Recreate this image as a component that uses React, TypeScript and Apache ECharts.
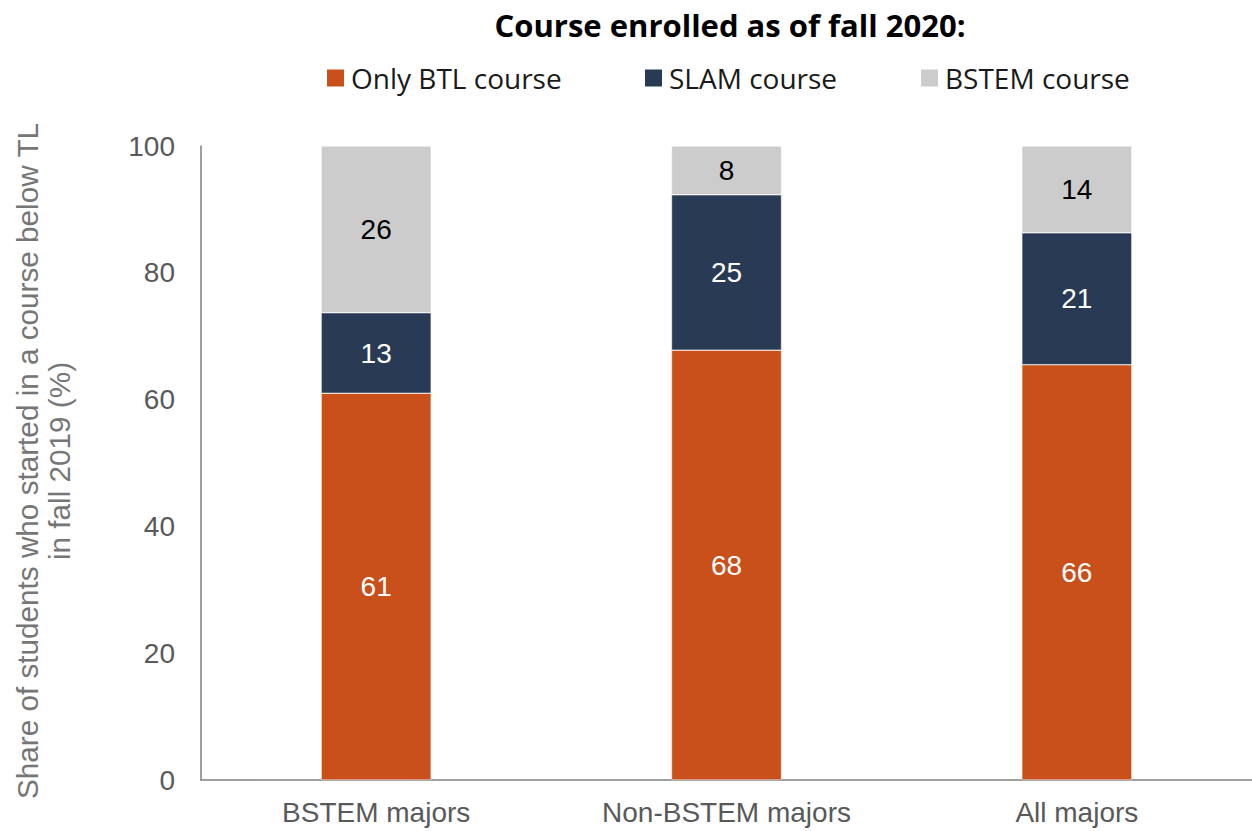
import React, { useEffect, useRef } from "react";
import * as echarts from "echarts";

const categories = ["BSTEM majors", "Non-BSTEM majors", "All majors"];
const onlyBTL = [61.0, 67.8, 65.5];
const slam = [12.7, 24.5, 20.8];
const bstem = [26.3, 7.7, 13.7];
const seriesNames = ["Only BTL course", "SLAM course", "BSTEM course"];
const colors = ["#C9501B", "#283A54", "#CCCCCC"];
const labelColors = ["#FFFFFF", "#FFFFFF", "#000000"];
const legendLefts = [325, 643, 919];

const FONT = "Liberation Sans, Arial, sans-serif";
const HEAD_FONT = "Open Sans, sans-serif";

export default function App() {
  const ref = useRef<HTMLDivElement>(null);
  useEffect(() => {
    if (!ref.current) return;
    const chart = echarts.init(ref.current, undefined, { renderer: "svg" });
    const datasets = [onlyBTL, slam, bstem];
    chart.setOption({
      animation: false,
      textStyle: { fontFamily: FONT },
      title: {
        text: "Course enrolled as of fall 2020:",
        left: 730,
        top: 9,
        padding: 0,
        textAlign: "center",
        textStyle: { fontFamily: HEAD_FONT, fontWeight: "bold", fontSize: 31, color: "#000" },
      },
      legend: seriesNames.map((n, i) => ({
        left: legendLefts[i],
        top: 64,
        padding: 0,
        itemWidth: 19,
        itemHeight: 19,
        itemGap: 0,
        icon: "rect",
        textStyle: { fontSize: 28, color: "#1a1a1a", fontFamily: HEAD_FONT, padding: [0, 0, 0, 1] },
        data: [n],
      })),
      grid: { left: 201, right: -8, top: 146, bottom: 51, containLabel: false },
      xAxis: {
        type: "category",
        data: categories,
        axisLine: { lineStyle: { color: "#7F7F7F", width: 1.5 } },
        axisTick: { show: false },
        axisLabel: { fontSize: 28, color: "#595959", margin: 18 },
      },
      yAxis: {
        type: "value",
        min: 0,
        max: 100,
        interval: 20,
        axisLine: { show: true, lineStyle: { color: "#7F7F7F", width: 1.5 } },
        axisTick: { show: false },
        splitLine: { show: false },
        axisLabel: { fontSize: 28, color: "#595959", margin: 26 },
      },
      graphic: [
        {
          type: "text",
          x: 43,
          y: 461,
          rotation: Math.PI / 2,
          style: {
            text: "Share of students who started in a course below TL\nin fall 2019 (%)",
            fontSize: 29.7,
            lineHeight: 32,
            fill: "#767676",
            align: "center",
            verticalAlign: "middle",
            fontFamily: FONT,
          },
        },
      ],
      series: datasets.map((d, i) => ({
        name: seriesNames[i],
        type: "bar",
        stack: "total",
        barWidth: 110,
        data: d,
        itemStyle: { color: colors[i], borderColor: "#FFFFFF", borderWidth: 0.5 },
        label: {
          show: true,
          position: "inside",
          fontSize: 28,
          color: labelColors[i],
          formatter: (p: any) => String(Math.round(p.value)),
        },
      })),
    });
    return () => chart.dispose();
  }, []);
  return (
    <div
      ref={ref}
      style={{ position: "absolute", left: 0, top: 0, width: 1252, height: 831, background: "#fff" }}
    />
  );
}
